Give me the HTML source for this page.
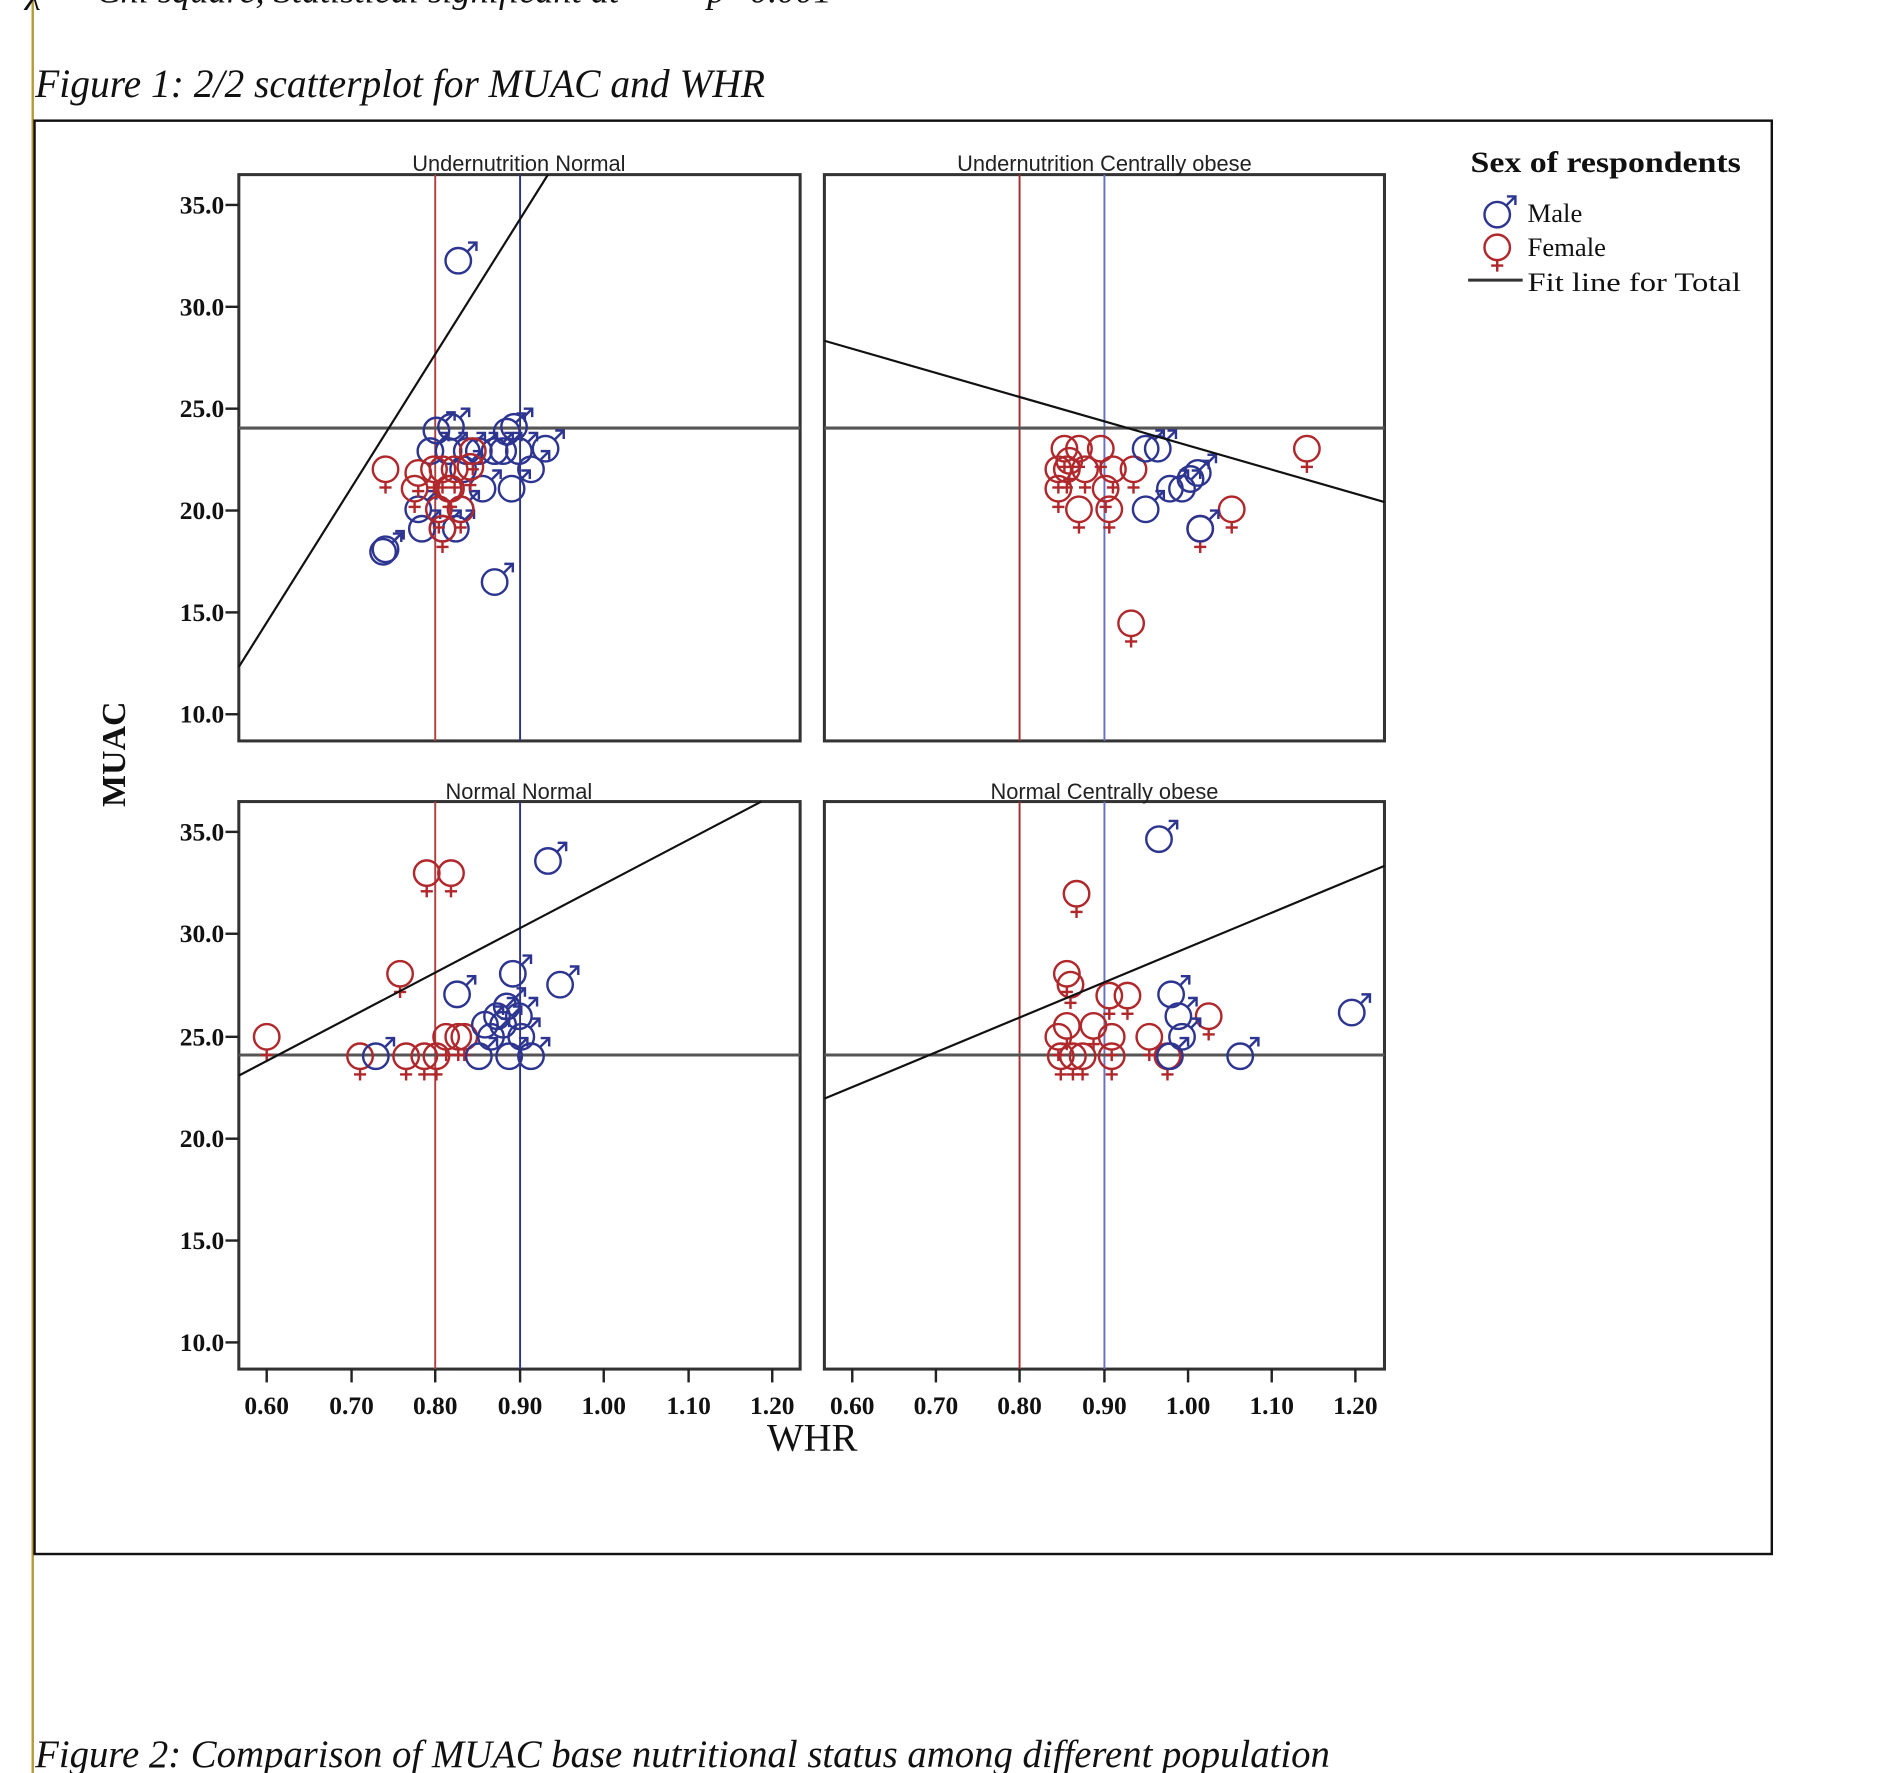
<!DOCTYPE html>
<html><head><meta charset="utf-8"><style>
html,body{margin:0;padding:0;background:#fff;width:1900px;height:1773px;overflow:hidden}
svg{display:block}
.tk{font-family:"Liberation Serif",serif;font-weight:bold;font-size:21px;fill:#111}
.pt{font-family:"Liberation Sans",sans-serif;font-size:18px;fill:#222}
</style></head><body>
<svg width="1900" height="1773" viewBox="0 0 1550 1446" preserveAspectRatio="none" xmlns="http://www.w3.org/2000/svg">
<defs>
<g id="m" fill="none" stroke="#2e3590" stroke-width="2"><circle cx="0" cy="0" r="10.5"/><line x1="7.5" y1="-7.5" x2="15" y2="-15"/><polyline points="8,-15 15,-15 15,-8"/></g>
<g id="f" fill="none" stroke="#b0282c" stroke-width="2"><circle cx="0" cy="0" r="10.5"/><line x1="0" y1="10.5" x2="0" y2="20"/><line x1="-5" y1="15" x2="5" y2="15"/></g>
</defs>
<rect width="1550" height="1446" fill="#fff"/>
<g transform="scale(0.989)">
<line x1="27" y1="0" x2="27" y2="1470" stroke="#b89a3a" stroke-width="2"/>
<text x="22" y="2" font-family="Liberation Serif,serif" font-style="italic" font-size="30" fill="#111">χ² = Chi square, Statistical significant at ** = p&lt;0.001</text>
<text x="29" y="80" font-family="Liberation Serif,serif" font-style="italic" font-size="33" fill="#111" textLength="602" lengthAdjust="spacingAndGlyphs">Figure 1: 2/2 scatterplot for MUAC and WHR</text>
<rect x="28.5" y="99.5" width="1433" height="1182" fill="none" stroke="#111" stroke-width="2"/>

<g stroke="#333" stroke-width="2.5" fill="none">
<rect x="197" y="144" width="463" height="467"/><rect x="680" y="144" width="462" height="467"/>
<rect x="197" y="661" width="463" height="468"/><rect x="680" y="661" width="462" height="468"/>
</g>
<g stroke-width="1.6">
<line x1="359" y1="144" x2="359" y2="611" stroke="#b04040"/><line x1="429" y1="144" x2="429" y2="611" stroke="#2e3580"/>
<line x1="841" y1="144" x2="841" y2="611" stroke="#a03030"/><line x1="911" y1="144" x2="911" y2="611" stroke="#6a70c0"/>
<line x1="359" y1="661" x2="359" y2="1129" stroke="#b04040"/><line x1="429" y1="661" x2="429" y2="1129" stroke="#2e3580"/>
<line x1="841" y1="661" x2="841" y2="1129" stroke="#a03030"/><line x1="911" y1="661" x2="911" y2="1129" stroke="#6a70c0"/>
</g>
<g stroke="#555" stroke-width="2.5">
<line x1="197" y1="353" x2="660" y2="353"/><line x1="680" y1="353" x2="1142" y2="353"/>
<line x1="197" y1="870" x2="660" y2="870"/><line x1="680" y1="870" x2="1142" y2="870"/>
</g>

<g>
<use href="#m" x="378" y="215"/><use href="#m" x="360" y="355"/><use href="#m" x="372" y="352"/><use href="#m" x="418" y="356"/><use href="#m" x="424" y="352"/><use href="#m" x="355" y="372"/><use href="#m" x="370" y="372"/><use href="#m" x="385" y="372"/><use href="#m" x="408" y="372"/><use href="#m" x="415" y="372"/><use href="#m" x="428" y="372"/><use href="#m" x="450" y="370"/><use href="#m" x="438" y="387"/><use href="#m" x="398" y="403"/><use href="#m" x="422" y="403"/><use href="#m" x="345" y="420"/><use href="#m" x="380" y="420"/><use href="#m" x="365" y="436"/><use href="#m" x="376" y="436"/><use href="#m" x="318" y="453"/><use href="#m" x="348" y="436"/><use href="#m" x="408" y="480"/><use href="#m" x="316" y="455"/><use href="#m" x="382" y="387"/><use href="#m" x="395" y="372"/>
<use href="#f" x="318" y="387"/><use href="#f" x="345" y="390"/><use href="#f" x="365" y="387"/><use href="#f" x="375" y="387"/><use href="#f" x="390" y="372"/><use href="#f" x="388" y="385"/><use href="#f" x="342" y="403"/><use href="#f" x="370" y="403"/><use href="#f" x="380" y="420"/><use href="#f" x="362" y="420"/><use href="#f" x="365" y="436"/><use href="#f" x="372" y="403"/><use href="#f" x="358" y="387"/>

<use href="#f" x="878" y="370"/><use href="#f" x="890" y="370"/><use href="#f" x="908" y="370"/><use href="#f" x="873" y="387"/><use href="#f" x="882" y="380"/><use href="#f" x="895" y="387"/><use href="#f" x="918" y="387"/><use href="#f" x="935" y="387"/><use href="#f" x="873" y="403"/><use href="#f" x="912" y="403"/><use href="#f" x="890" y="420"/><use href="#f" x="915" y="420"/><use href="#f" x="1078" y="370"/><use href="#f" x="990" y="436"/><use href="#f" x="1016" y="420"/><use href="#f" x="933" y="514"/><use href="#f" x="880" y="387"/>
<use href="#m" x="945" y="370"/><use href="#m" x="955" y="370"/><use href="#m" x="945" y="420"/><use href="#m" x="965" y="403"/><use href="#m" x="975" y="403"/><use href="#m" x="982" y="395"/><use href="#m" x="988" y="390"/><use href="#m" x="990" y="436"/>

<use href="#f" x="220" y="855"/><use href="#f" x="330" y="803"/><use href="#f" x="352" y="720"/><use href="#f" x="372" y="720"/><use href="#f" x="297" y="871"/><use href="#f" x="335" y="871"/><use href="#f" x="350" y="871"/><use href="#f" x="360" y="871"/><use href="#f" x="368" y="855"/><use href="#f" x="378" y="855"/><use href="#f" x="383" y="855"/>
<use href="#m" x="310" y="871"/><use href="#m" x="377" y="820"/><use href="#m" x="395" y="871"/><use href="#m" x="410" y="838"/><use href="#m" x="418" y="830"/><use href="#m" x="423" y="803"/><use href="#m" x="462" y="812"/><use href="#m" x="452" y="710"/><use href="#m" x="405" y="855"/><use href="#m" x="430" y="855"/><use href="#m" x="438" y="871"/><use href="#m" x="420" y="871"/><use href="#m" x="415" y="845"/><use href="#m" x="428" y="838"/><use href="#m" x="400" y="845"/>

<use href="#f" x="888" y="737"/><use href="#f" x="880" y="803"/><use href="#f" x="883" y="812"/><use href="#f" x="873" y="855"/><use href="#f" x="880" y="846"/><use href="#f" x="875" y="871"/><use href="#f" x="885" y="871"/><use href="#f" x="893" y="871"/><use href="#f" x="902" y="846"/><use href="#f" x="915" y="821"/><use href="#f" x="930" y="821"/><use href="#f" x="917" y="855"/><use href="#f" x="917" y="871"/><use href="#f" x="948" y="855"/><use href="#f" x="997" y="838"/><use href="#f" x="963" y="871"/>
<use href="#m" x="956" y="692"/><use href="#m" x="966" y="820"/><use href="#m" x="972" y="838"/><use href="#m" x="975" y="855"/><use href="#m" x="1023" y="871"/><use href="#m" x="1115" y="835"/><use href="#m" x="965" y="871"/>
</g>

<g stroke="#111" stroke-width="1.8">
<line x1="197" y1="550" x2="452" y2="144"/>
<line x1="680" y1="281" x2="1142" y2="414"/>
<line x1="197" y1="887" x2="628" y2="661"/>
<line x1="680" y1="906" x2="1142" y2="714"/>
</g>

<text class="pt" x="428" y="141" text-anchor="middle">Undernutrition Normal</text>
<text class="pt" x="911" y="141" text-anchor="middle">Undernutrition Centrally obese</text>
<text class="pt" x="428" y="659" text-anchor="middle">Normal Normal</text>
<text class="pt" x="911" y="659" text-anchor="middle">Normal Centrally obese</text>

<g stroke="#222" stroke-width="2">
<line x1="186" y1="169" x2="197" y2="169"/><line x1="186" y1="253" x2="197" y2="253"/><line x1="186" y1="337" x2="197" y2="337"/><line x1="186" y1="421" x2="197" y2="421"/><line x1="186" y1="505" x2="197" y2="505"/><line x1="186" y1="589" x2="197" y2="589"/>
<line x1="186" y1="686" x2="197" y2="686"/><line x1="186" y1="770" x2="197" y2="770"/><line x1="186" y1="855" x2="197" y2="855"/><line x1="186" y1="939" x2="197" y2="939"/><line x1="186" y1="1023" x2="197" y2="1023"/><line x1="186" y1="1107" x2="197" y2="1107"/>
</g>
<g class="tk" text-anchor="end">
<text x="185" y="176">35.0</text><text x="185" y="260">30.0</text><text x="185" y="344">25.0</text><text x="185" y="428">20.0</text><text x="185" y="512">15.0</text><text x="185" y="596">10.0</text>
<text x="185" y="693">35.0</text><text x="185" y="777">30.0</text><text x="185" y="862">25.0</text><text x="185" y="946">20.0</text><text x="185" y="1030">15.0</text><text x="185" y="1114">10.0</text>
</g>
<g stroke="#222" stroke-width="2">
<line x1="220" y1="1129" x2="220" y2="1140"/><line x1="290" y1="1129" x2="290" y2="1140"/><line x1="359" y1="1129" x2="359" y2="1140"/><line x1="429" y1="1129" x2="429" y2="1140"/><line x1="498" y1="1129" x2="498" y2="1140"/><line x1="568" y1="1129" x2="568" y2="1140"/><line x1="637" y1="1129" x2="637" y2="1140"/>
<line x1="703" y1="1129" x2="703" y2="1140"/><line x1="772" y1="1129" x2="772" y2="1140"/><line x1="841" y1="1129" x2="841" y2="1140"/><line x1="911" y1="1129" x2="911" y2="1140"/><line x1="980" y1="1129" x2="980" y2="1140"/><line x1="1049" y1="1129" x2="1049" y2="1140"/><line x1="1118" y1="1129" x2="1118" y2="1140"/>
</g>
<g class="tk" text-anchor="middle">
<text x="220" y="1166">0.60</text><text x="290" y="1166">0.70</text><text x="359" y="1166">0.80</text><text x="429" y="1166">0.90</text><text x="498" y="1166">1.00</text><text x="568" y="1166">1.10</text><text x="637" y="1166">1.20</text>
<text x="703" y="1166">0.60</text><text x="772" y="1166">0.70</text><text x="841" y="1166">0.80</text><text x="911" y="1166">0.90</text><text x="980" y="1166">1.00</text><text x="1049" y="1166">1.10</text><text x="1118" y="1166">1.20</text>
</g>
<text x="670" y="1196" text-anchor="middle" font-family="Liberation Serif,serif" font-size="32" fill="#111">WHR</text>
<text transform="translate(103,622) rotate(-90)" text-anchor="middle" font-family="Liberation Serif,serif" font-weight="bold" font-size="28" fill="#111">MUAC</text>

<text x="1213" y="142" font-family="Liberation Serif,serif" font-weight="bold" font-size="24" fill="#111" textLength="223" lengthAdjust="spacingAndGlyphs">Sex of respondents</text>
<use href="#m" x="1235" y="177"/>
<text x="1260" y="183" font-family="Liberation Serif,serif" font-size="22" fill="#111">Male</text>
<use href="#f" x="1235" y="204"/>
<text x="1260" y="211" font-family="Liberation Serif,serif" font-size="22" fill="#111">Female</text>
<line x1="1211" y1="231" x2="1256" y2="231" stroke="#333" stroke-width="2.5"/>
<text x="1260" y="240" font-family="Liberation Serif,serif" font-size="22" fill="#111" textLength="176" lengthAdjust="spacingAndGlyphs">Fit line for Total</text>

<text x="29" y="1457" font-family="Liberation Serif,serif" font-style="italic" font-size="32" fill="#111" textLength="1068" lengthAdjust="spacingAndGlyphs">Figure 2: Comparison of MUAC base nutritional status among different population</text>
</g>
</svg>
</body></html>
